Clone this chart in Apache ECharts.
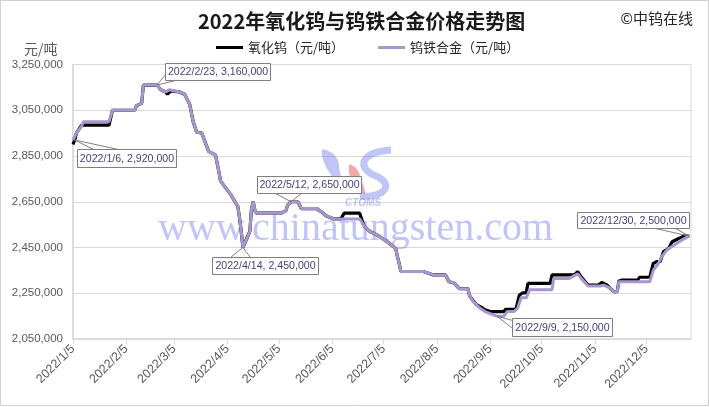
<!DOCTYPE html>
<html><head><meta charset="utf-8">
<script src="https://cdn.jsdelivr.net/npm/echarts@6/dist/echarts.min.js"></script>
<style>html,body{margin:0;padding:0;background:#fff}#c{width:710px;height:407px}</style>
</head><body><div id="c"></div>
<script>
const titleText = '2022年氧化钨与钨铁合金价格走势图';
const seriesNames = ['氧化钨（元/吨）', '钨铁合金（元/吨）'];
const xTickLabels = ['2022/1/5','2022/2/5','2022/3/5','2022/4/5','2022/5/5','2022/6/5','2022/7/5','2022/8/5','2022/9/5','2022/10/5','2022/11/5','2022/12/5'];
const yMin = 2050000, yMax = 3250000, yStep = 200000;

// 氧化钨 (black)
const oxide = [
['1/5',2900000],['1/6',2920000],['1/7',2950000],['1/10',2985000],['1/26',2985000],['1/28',3050000],
['2/10',3050000],['2/11',3070000],['2/14',3080000],['2/15',3160000],['2/23',3160000],['2/24',3150000],
['2/25',3140000],['2/28',3130000],['3/1',3120000],['3/2',3125000],['3/3',3135000],['3/8',3130000],
['3/11',3120000],['3/14',3075000],['3/16',3000000],['3/18',2955000],['3/21',2950000],['3/23',2910000],
['3/25',2870000],['3/29',2855000],['3/31',2780000],['4/1',2740000],['4/7',2680000],['4/11',2630000],
['4/12',2580000],['4/13',2520000],['4/14',2450000],['4/15',2450000],['4/18',2520000],['4/19',2620000],
['4/20',2650000],['4/21',2610000],['4/22',2600000],['5/6',2600000],['5/9',2610000],['5/10',2635000],
['5/12',2650000],['5/16',2650000],['5/17',2635000],['5/18',2620000],['5/27',2620000],['5/30',2605000],
['5/31',2605000],['6/1',2590000],['6/2',2590000],['6/6',2575000],['6/10',2575000],['6/12',2600000],
['6/21',2600000],['6/23',2555000],['6/24',2540000],['6/27',2520000],['7/1',2505000],['7/5',2485000],
['7/8',2470000],['7/12',2445000],['7/13',2410000],['7/14',2380000],['7/15',2345000],['7/28',2345000],
['7/29',2340000],['8/3',2330000],['8/10',2330000],['8/12',2300000],['8/15',2295000],['8/16',2295000],
['8/18',2270000],['8/23',2270000],['8/24',2240000],['8/26',2218000],['8/28',2200000],['8/31',2188000],
['9/2',2178000],['9/5',2170000],['9/13',2170000],['9/14',2180000],['9/20',2180000],['9/22',2242000],
['9/24',2252000],['9/26',2252000],['9/27',2293000],['10/10',2293000],['10/11',2330000],['10/24',2330000],
['10/26',2345000],['10/28',2322000],['11/1',2286000],['11/7',2286000],['11/9',2297000],['11/12',2286000],
['11/16',2257000],['11/18',2257000],['11/19',2303000],['11/21',2308000],['11/30',2308000],['12/1',2320000],
['12/7',2320000],['12/9',2380000],['12/11',2388000],['12/13',2388000],['12/15',2432000],['12/18',2446000],
['12/20',2475000],['12/23',2486000],['12/27',2500000],['12/30',2500000]
];

// 钨铁合金 (purple)
const ferro = [
['1/5',2920000],['1/6',2920000],['1/7',2950000],['1/10',2980000],['1/11',3000000],['1/26',3000000],
['1/28',3050000],['2/10',3050000],['2/11',3070000],['2/14',3080000],['2/15',3160000],['2/23',3160000],
['2/24',3150000],['2/25',3140000],['2/28',3130000],['3/1',3125000],['3/2',3140000],['3/3',3135000],
['3/8',3130000],['3/11',3120000],['3/14',3075000],['3/16',3000000],['3/18',2955000],['3/21',2950000],
['3/23',2910000],['3/25',2870000],['3/29',2855000],['3/31',2780000],['4/1',2740000],['4/7',2680000],
['4/11',2630000],['4/12',2580000],['4/13',2520000],['4/14',2450000],['4/15',2450000],['4/18',2520000],
['4/19',2620000],['4/20',2650000],['4/21',2610000],['4/22',2600000],['5/6',2600000],['5/9',2610000],
['5/10',2635000],['5/12',2650000],['5/16',2650000],['5/17',2635000],['5/18',2620000],['5/27',2620000],
['5/30',2605000],['5/31',2605000],['6/1',2590000],['6/2',2590000],['6/6',2575000],['6/21',2575000],
['6/24',2540000],['6/27',2520000],['7/1',2505000],['7/5',2485000],['7/8',2470000],['7/12',2445000],
['7/13',2410000],['7/14',2380000],['7/15',2345000],['7/28',2345000],['7/29',2340000],['8/3',2330000],
['8/10',2330000],['8/12',2300000],['8/15',2295000],['8/16',2295000],['8/18',2270000],['8/23',2270000],
['8/24',2240000],['8/26',2215000],['8/30',2185000],['9/2',2170000],['9/7',2155000],['9/9',2150000],
['9/13',2150000],['9/15',2170000],['9/19',2170000],['9/21',2185000],['9/23',2230000],['9/26',2230000],
['9/28',2265000],['10/11',2265000],['10/12',2315000],['10/21',2315000],['10/26',2335000],['10/28',2315000],
['11/1',2282000],['11/8',2282000],['11/10',2285000],['11/14',2272000],['11/16',2257000],['11/18',2257000],
['11/19',2300000],['12/7',2300000],['12/9',2350000],['12/12',2380000],['12/14',2410000],['12/17',2440000],
['12/21',2460000],['12/25',2480000],['12/30',2500000]
];

// data-label callouts: [date, value]
const callouts = [['1/6',2920000],['2/23',3160000],['4/14',2450000],['5/12',2650000],['9/9',2150000],['12/30',2500000]];

// callout box layout (offsets from the point, box size, wedge base points relative to the box)
const calloutLayout = [
 {dx:2,  dy:9,   w:99,  h:18, a:[16,0], b:[41,0]},
 {dx:8,  dy:-22, w:105, h:17, a:[0,11], b:[10,17]},
 {dx:-31,dy:9,   w:106, h:17, a:[18,0], b:[38,0]},
 {dx:-34,dy:-26, w:104, h:17, a:[18,17],b:[44,17]},
 {dx:15, dy:2,   w:100, h:18, a:[0,2],  b:[0,10]},
 {dx:-112,dy:-24,w:112, h:16, a:[78,16],b:[98,16]}
];

function t(md){ const p = md.split('/').map(Number); return Date.UTC(2022, p[0]-1, p[1]); }
function tFull(s){ const p = s.split('/').map(Number); return Date.UTC(p[0], p[1]-1, p[2]); }
const fmtNum = v => Math.round(v).toLocaleString('en-US');
const fmtDate = v => { const d = new Date(v); return d.getUTCFullYear() + '/' + (d.getUTCMonth()+1) + '/' + d.getUTCDate(); };

const chart = echarts.init(document.getElementById('c'), null, {renderer:'canvas'});
const numFont = '"Liberation Sans", Arial, sans-serif';
const cjkFont = '"Noto Sans CJK SC", "Noto Sans", sans-serif';
const xTicks = xTickLabels.map(tFull);

const option = {
  animation: false,
  backgroundColor: '#fff',
  title: {
    text: titleText, left: 193, top: 6,
    textStyle: {fontSize: 20, fontWeight: 'bold', color: '#1a1a1a', fontFamily: cjkFont}
  },
  legend: {
    left: 211, top: 36, itemWidth: 27, itemHeight: 3, itemGap: 34, icon: 'rect',
    textStyle: {fontSize: 13, color: '#262626', fontFamily: cjkFont},
    data: seriesNames
  },
  grid: {left: 73, right: 19, top: 64.5, bottom: 68, show: true, borderColor: '#d9d9d9', borderWidth: 1, containLabel: false},
  xAxis: {
    type: 'value', min: t('1/5'), max: t('12/31'),
    axisLine: {show: true, lineStyle: {color: '#d9d9d9', width: 1.5}},
    axisTick: {show: true, length: 5, lineStyle: {color: '#d9d9d9'}, customValues: xTicks},
    axisLabel: {
      customValues: xTicks, rotate: 45, margin: 8, fontSize: 12.5, color: '#595959', fontFamily: numFont,
      formatter: fmtDate
    },
    splitLine: {show: false}
  },
  yAxis: {
    type: 'value', min: yMin, max: yMax, interval: yStep,
    axisLine: {show: true, lineStyle: {color: '#d9d9d9', width: 1.5}},
    axisTick: {show: false},
    axisLabel: {fontSize: 11.5, color: '#595959', margin: 10, fontFamily: numFont, formatter: fmtNum},
    splitLine: {show: true, lineStyle: {color: '#d9d9d9', width: 1}}
  },
  series: [
    {name: seriesNames[0], type: 'line', showSymbol: false, z: 3,
     lineStyle: {color: '#000', width: 3.2}, itemStyle: {color: '#000'},
     data: oxide.map(d => [t(d[0]), d[1]])},
    {name: seriesNames[1], type: 'line', showSymbol: false, z: 4,
     lineStyle: {color: '#a897cf', width: 3}, itemStyle: {color: '#a897cf'},
     data: ferro.map(d => [t(d[0]), d[1]])}
  ]
};
chart.setOption(option);

const wm = 'rgba(105,115,235,0.42)';
const graphics = [
  {type: 'rect', z: 0, shape: {x: 0.5, y: 0.5, width: 708, height: 405}, style: {fill: 'none', stroke: '#d0d0d0', lineWidth: 1}},
  {type: 'text', z: 5, x: 24, y: 49, style: {text: '元/吨', fontSize: 14, fill: '#595959', fontFamily: cjkFont, verticalAlign: 'middle'}},
  {type: 'text', z: 5, x: 693, y: 18, style: {text: '©中钨在线', fontSize: 15, fill: '#262626', fontFamily: cjkFont, align: 'right', verticalAlign: 'middle'}},
  {type: 'text', z: 1, x: 158, y: 229, style: {text: 'www.chinatungsten.com', fontSize: 40, fill: wm, fontFamily: '"Liberation Serif", "DejaVu Serif", serif', verticalAlign: 'middle'}},
  {type: 'polygon', z: 1, shape: {points: [[322,150],[329,172],[349,192],[341,176],[336,157]], smooth: 0.4}, style: {fill: wm}},
  {type: 'polygon', z: 1, shape: {points: [[349,165],[353,184],[365,194],[361,179],[356,168]], smooth: 0.4}, style: {fill: 'rgba(240,110,110,0.6)'}},
  {type: 'bezierCurve', z: 1, shape: {x1: 391, y1: 150, cpx1: 360, cpy1: 152, cpx2: 356, cpy2: 168, x2: 376, y2: 176}, style: {fill: 'none', stroke: wm, lineWidth: 7}},
  {type: 'bezierCurve', z: 1, shape: {x1: 376, y1: 176, cpx1: 394, cpy1: 184, cpx2: 386, cpy2: 198, x2: 360, y2: 196}, style: {fill: 'none', stroke: wm, lineWidth: 7}},
  {type: 'text', z: 1, x: 363, y: 203, style: {text: 'CTOMS', fontSize: 10, fontStyle: 'italic', fontWeight: 'bold', fill: wm, fontFamily: numFont, align: 'center', verticalAlign: 'middle'}}
];

callouts.forEach((c, i) => {
  const p = chart.convertToPixel({gridIndex: 0}, [t(c[0]), c[1]]);
  const L = calloutLayout[i];
  const bx = Math.round(p[0] + L.dx) + 0.5, by = Math.round(p[1] + L.dy) + 0.5;
  graphics.push({type: 'polyline', z: 10, shape: {points: [[bx + L.a[0], by + L.a[1]], [p[0], p[1]], [bx + L.b[0], by + L.b[1]]]},
    style: {fill: 'none', stroke: '#7f7f7f', lineWidth: 1}});
  graphics.push({type: 'rect', z: 11, shape: {x: bx, y: by, width: L.w, height: L.h}, style: {fill: '#fff', stroke: '#7f7f7f', lineWidth: 1}});
  graphics.push({type: 'text', z: 12, x: bx + L.w / 2, y: by + L.h / 2 + 0.5,
    style: {text: '2022/' + c[0] + ', ' + fmtNum(c[1]), fontSize: 10.6, fill: '#4b3c7c', fontFamily: numFont, align: 'center', verticalAlign: 'middle'}});
});
chart.setOption({graphic: graphics});
</script></body></html>
